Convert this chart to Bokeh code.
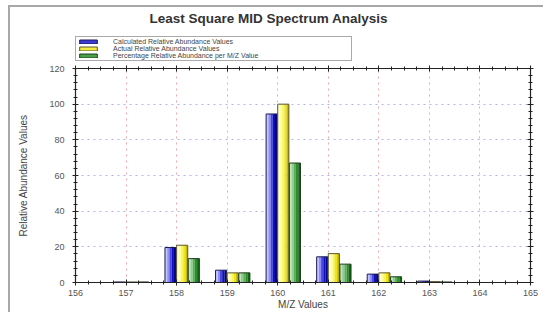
from bokeh.plotting import figure
from bokeh.layouts import column
from bokeh.models import (Range1d, LinearAxis, Legend, LegendItem, FixedTicker)
from bokeh.embed import file_html
from bokeh.resources import INLINE

# ---- data ----
mz = [156, 157, 158, 159, 160, 161, 162, 163, 164]
calculated = [0.0, 0.3, 19.6, 6.9, 94.5, 14.4, 4.7, 0.8, 0.0]
actual = [0.0, 0.3, 20.9, 5.4, 100.0, 16.2, 5.4, 0.5, 0.0]
percentage = [0.0, 0.3, 13.4, 5.4, 67.0, 10.3, 3.2, 0.3, 0.0]
series_names = ["Calculated Relative Abundance Values",
                "Actual Relative Abundance Values",
                "Percentage Relative Abundance per M/Z Value"]
x_ticks = [156, 157, 158, 159, 160, 161, 162, 163, 164, 165]
y_ticks = [0, 20, 40, 60, 80, 100, 120]

# ---- style ----
offsets = [-0.12, 0.11, 0.34]
bar_w = 0.22
gradients = [
    ["#c4c4ff", "#9090f4", "#4848e0", "#1010b8", "#00008c"],
    ["#ffffd8", "#ffff9c", "#fbf560", "#efe41c", "#c8bc00"],
    ["#c0e4c0", "#90cc90", "#5cb05c", "#2e8c2e", "#146414"],
]
mid_colors = ["#3a3ad8", "#f4ec40", "#4aa04a"]
outlines = ["#1c1c50", "#5a5630", "#1e3e1e"]
FONT = "Liberation Sans"
W = 533
series = [calculated, actual, percentage]

# ---------- header figure: title + legend ----------
head = figure(width=W, height=55, output_backend="svg", toolbar_location=None,
              x_range=Range1d(0, 1), y_range=Range1d(0, 1),
              min_border_left=0, min_border_right=0, min_border_top=0,
              min_border_bottom=0)
head.axis.visible = False
head.grid.visible = False
head.outline_line_color = None
head.title.text = "Least Square MID Spectrum Analysis"
head.title.align = "left"
head.title.offset = 74
head.title.text_font = FONT
head.title.text_font_size = "13.5px"
head.title.text_font_style = "bold"
head.title.text_color = "#333333"
head.title.standoff = 2

items = []
for i in range(3):
    # legend-only renderers (hidden), carrying the series data
    r = head.vbar(x=mz, top=series[i], width=0.1, fill_color=mid_colors[i],
                  line_color=outlines[i], visible=False)
    items.append(LegendItem(label=series_names[i], renderers=[r]))

legend = Legend(items=items, location=(0, 1), orientation="vertical")
legend.label_text_font = FONT
legend.label_text_font_size = "7px"
legend.label_text_color = "#444444"
legend.label_height = 6
legend.label_width = 237
legend.glyph_height = 5
legend.glyph_width = 22
legend.spacing = 0
legend.padding = 1
legend.margin = 0
legend.label_standoff = 14
legend.border_line_color = "#555555"
legend.border_line_width = 1
legend.background_fill_alpha = 1
legend.inactive_fill_alpha = 0
head.add_layout(legend, "center")

# ---------- main plot ----------
p = figure(width=W, height=250, output_backend="svg", toolbar_location=None,
           x_range=Range1d(156, 165), y_range=Range1d(0, 120),
           min_border_left=65, min_border_right=13, min_border_top=6,
           min_border_bottom=30)
p.background_fill_color = "white"
p.border_fill_color = "white"
p.outline_line_color = "#222222"
p.outline_line_width = 1

p.xgrid.ticker = FixedTicker(ticks=x_ticks)
p.ygrid.ticker = FixedTicker(ticks=y_ticks)
p.xgrid.grid_line_color = "#f0a8a8"
p.xgrid.grid_line_dash = "2 4"
p.ygrid.grid_line_color = "#b4b4e0"
p.ygrid.grid_line_dash = "2 4"


def style_axis(ax, labels=True):
    ax.axis_line_color = "#222222"
    ax.axis_line_width = 1.2
    ax.major_tick_line_color = "#222222"
    ax.minor_tick_line_color = "#222222"
    ax.major_tick_in = 3
    ax.major_tick_out = 3
    ax.minor_tick_in = 2
    ax.minor_tick_out = 2
    ax.major_label_text_font = FONT
    ax.major_label_text_font_size = "9px"
    ax.major_label_text_color = "#555555"
    ax.axis_label_text_font = FONT
    ax.axis_label_text_font_size = "10px"
    ax.axis_label_text_font_style = "normal"
    ax.axis_label_text_color = "#444444"
    if not labels:
        ax.major_label_text_font_size = "0px"
        ax.major_label_text_alpha = 0
        ax.major_label_standoff = 0


xt = FixedTicker(ticks=x_ticks, minor_ticks=[156 + i * 0.25 for i in range(37)])
yt = FixedTicker(ticks=y_ticks, minor_ticks=[i * 4 for i in range(31)])

p.xaxis.ticker = xt
p.yaxis.ticker = yt
p.xaxis.axis_label = "M/Z Values"
p.yaxis.axis_label = "Relative Abundance Values"
style_axis(p.xaxis[0])
style_axis(p.yaxis[0])
p.xaxis.major_label_standoff = 4
p.yaxis.major_label_standoff = 8
p.yaxis.axis_label_standoff = 17
p.xaxis.axis_label_standoff = 0

top_ax = LinearAxis(ticker=xt)
right_ax = LinearAxis(ticker=yt)
style_axis(top_ax, labels=False)
style_axis(right_ax, labels=False)
p.add_layout(top_ax, "above")
p.add_layout(right_ax, "right")

for i, vals in enumerate(series):
    grad = gradients[i]
    n = len(grad)
    sw = bar_w / n
    for k, col in enumerate(grad):
        xs = [m + offsets[i] - bar_w / 2 + (k + 0.5) * sw for m in mz]
        p.vbar(x=xs, top=vals, bottom=0, width=sw * 1.02, fill_color=col,
               line_color=None)
    xs = [m + offsets[i] for m in mz]
    p.vbar(x=xs, top=vals, bottom=0, width=bar_w, fill_alpha=0,
           line_color=outlines[i], line_width=1)

layout = column(head, p, spacing=0)
layout.margin = (5, 0, 0, 8)
layout.styles = {"border-top": "2px solid #a8a8a8",
                 "border-left": "2px solid #a8a8a8"}

open("out.html", "w").write(file_html(layout, INLINE))
